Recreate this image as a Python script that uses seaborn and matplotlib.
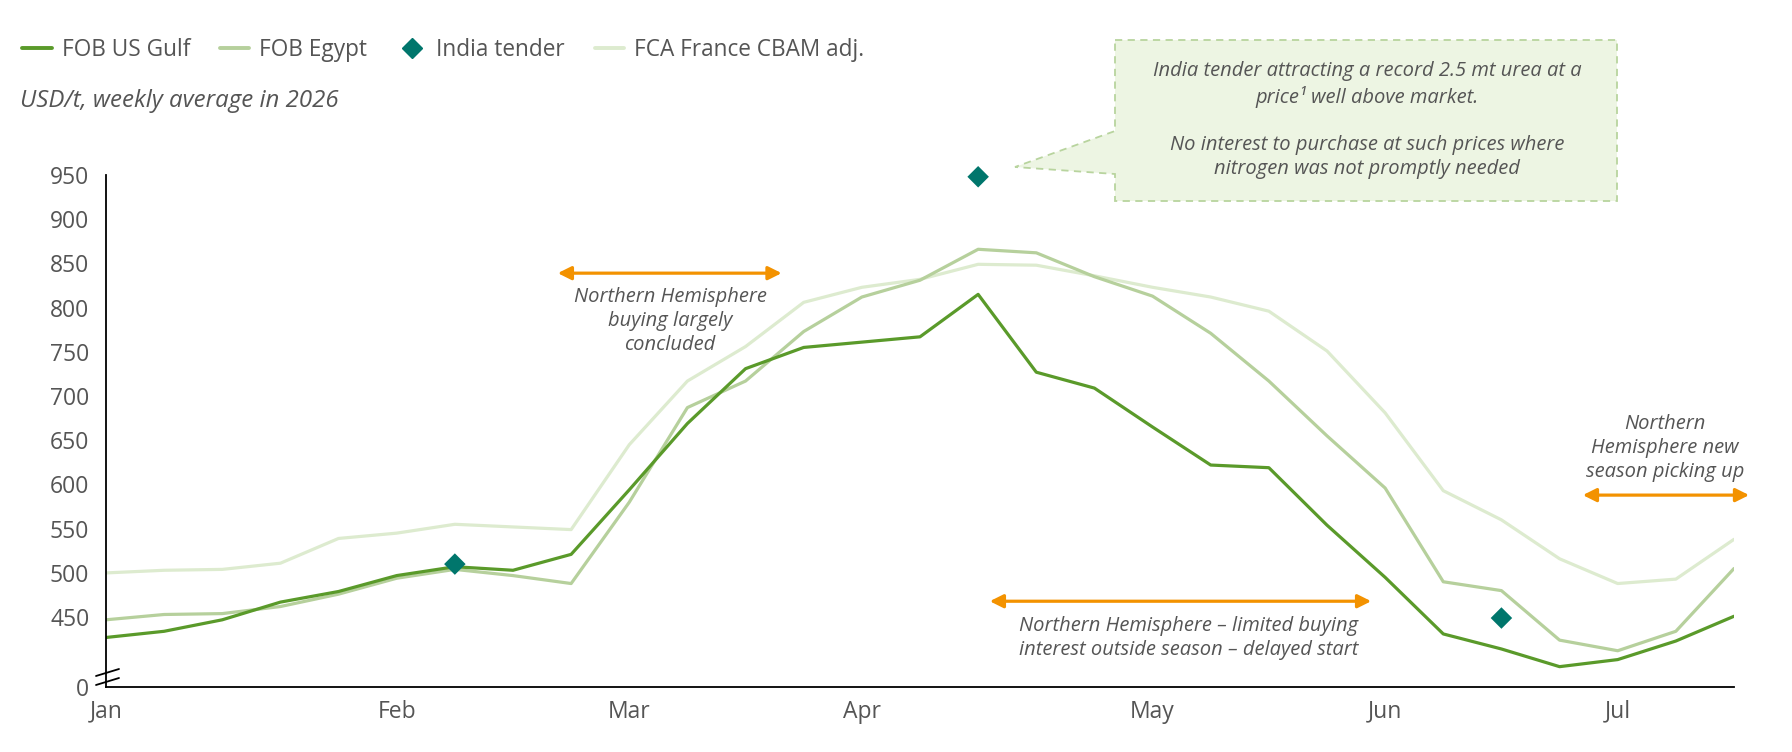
import pandas as pd
import seaborn as sns
import matplotlib.pyplot as plt
from matplotlib.lines import Line2D
from matplotlib.patches import Polygon

sns.set_style('white')
plt.rcParams['font.family'] = ['Open Sans', 'DejaVu Sans']

# weekly prices, USD/t (weeks starting Thu 1 Jan 2026)
weeks = pd.date_range('2026-01-01', periods=29, freq='7D')
us_gulf = [427, 434, 447, 467, 479, 497, 507, 503, 521, 594, 669, 731, 755, 761, 767,
           815, 727, 709, 665, 622, 619, 554, 495, 431, 414, 394, 402, 423, 451]
egypt = [447, 453, 454, 462, 476, 494, 504, 497, 488, 580, 687, 717, 773, 812, 831,
         866, 862, 835, 813, 771, 717, 655, 596, 490, 480, 424, 412, 434, 505]
france = [500, 503, 504, 511, 539, 545, 555, 552, 549, 645, 717, 756, 806, 823, 832,
          849, 848, 836, 823, 812, 796, 751, 681, 593, 560, 516, 488, 493, 538]
tender_week = [6, 15, 24]
tender_price = [510, 948, 449]
y_ticks = [450, 500, 550, 600, 650, 700, 750, 800, 850, 900, 950]

series_names = ['FOB US Gulf', 'FOB Egypt', 'FCA France CBAM adj.']
colors = {'FOB US Gulf': '#5A9A2A', 'FOB Egypt': '#B6D09C', 'FCA France CBAM adj.': '#DDEBCF'}
teal = '#00766C'
orange = '#F39200'
grey = '#555555'

df = pd.DataFrame({'week': range(len(weeks)), 'FOB US Gulf': us_gulf,
                   'FOB Egypt': egypt, 'FCA France CBAM adj.': france})
long_df = df.melt(id_vars='week', var_name='series', value_name='price')

W, H = 1792, 752
def px(x, y):
    return (x / W, 1 - y / H)

fig = plt.figure(figsize=(W / 100, H / 100), dpi=100)
ax = fig.add_axes([106 / W, 1 - 687 / H, (1734 - 106) / W, (687 - 175) / H])

y_floor = 371  # where the broken axis puts 0

sns.lineplot(data=long_df, x='week', y='price', hue='series',
             hue_order=series_names[::-1], palette=colors, linewidth=2.3,
             ax=ax, legend=False)
sns.scatterplot(x=tender_week, y=tender_price, marker='D', s=120, color=teal,
                edgecolor='none', zorder=5, ax=ax, legend=False, clip_on=False)

ax.set_xlim(0, len(weeks) - 1)
ax.set_ylim(y_floor, 950)
ax.set_xlabel('')
ax.set_ylabel('')

# month labels at the first week of each month
month_pos = [i for i in range(len(weeks)) if i == 0 or weeks[i].month != weeks[i - 1].month]
ax.set_xticks(month_pos)
ax.set_xticklabels([weeks[i].strftime('%b') for i in month_pos])
ax.set_yticks([y_floor] + y_ticks)
ax.set_yticklabels(['0'] + [str(v) for v in y_ticks])
ax.tick_params(axis='x', length=0, pad=9, labelsize=16.5, labelcolor=grey)
ax.tick_params(axis='y', direction='out', length=7, width=1.2, color='black',
               pad=5, labelsize=16.5, labelcolor=grey)
ax.yaxis.get_major_ticks()[0].tick1line.set_visible(False)

sns.despine(ax=ax)
for s in ['left', 'bottom']:
    ax.spines[s].set_color('black')
    ax.spines[s].set_linewidth(1.3)

# axis break mark
for y0 in [676, 685]:
    fig.add_artist(Line2D([96 / W, 119 / W], [1 - y0 / H, 1 - (y0 - 7) / H],
                          color='black', lw=1.3, transform=fig.transFigure))

# season arrows and notes
arrows = [(7.77, 11.62, 839), (15.2, 21.76, 468), (25.4, 28.26, 588)]
for x0, x1, yv in arrows:
    ax.annotate('', xy=(x1, yv), xytext=(x0, yv), annotation_clip=False,
                arrowprops=dict(arrowstyle='<|-|>', color=orange, lw=2.3,
                                mutation_scale=20, shrinkA=0, shrinkB=0))

note_kw = dict(ha='center', va='center', style='italic', fontsize=14.5,
               color=grey, linespacing=1.25)
fig.text(*px(670, 321), 'Northern Hemisphere\nbuying largely\nconcluded', **note_kw)
fig.text(*px(1189, 638), 'Northern Hemisphere – limited buying\ninterest outside season – delayed start', **note_kw)
fig.text(*px(1665, 448), 'Northern\nHemisphere new\nseason picking up', **note_kw)

# callout box for the India tender
box = [(1115, 40), (1617, 40), (1617, 201), (1115, 201), (1115, 174),
       (1015, 167), (1115, 131)]
fig.add_artist(Polygon([px(x, y) for x, y in box], closed=True, transform=fig.transFigure,
                       facecolor='#EDF5E3', edgecolor='#B8D49E', lw=1.3,
                       linestyle=(0, (4, 3))))
fig.text(*px(1367, 120),
         'India tender attracting a record 2.5 mt urea at a\nprice¹ well above market.\n\n'
         'No interest to purchase at such prices where\nnitrogen was not promptly needed',
         **note_kw)

# legend and unit label
handles = [Line2D([], [], color=colors['FOB US Gulf'], lw=2.8),
           Line2D([], [], color=colors['FOB Egypt'], lw=2.8),
           Line2D([], [], color=teal, marker='D', ls='none', markersize=10),
           Line2D([], [], color=colors['FCA France CBAM adj.'], lw=2.8)]
labels = ['FOB US Gulf', 'FOB Egypt', 'India tender', 'FCA France CBAM adj.']
fig.legend(handles, labels, loc='center left', bbox_to_anchor=px(2, 50), ncol=4,
           frameon=False, fontsize=16.3, handlelength=1.3, handletextpad=0.45,
           columnspacing=1.3, labelcolor=grey)
fig.text(*px(20, 101), 'USD/t, weekly average in 2026', ha='left', va='center',
         style='italic', fontsize=17.3, color=grey)

plt.savefig('out.png', dpi=100)
